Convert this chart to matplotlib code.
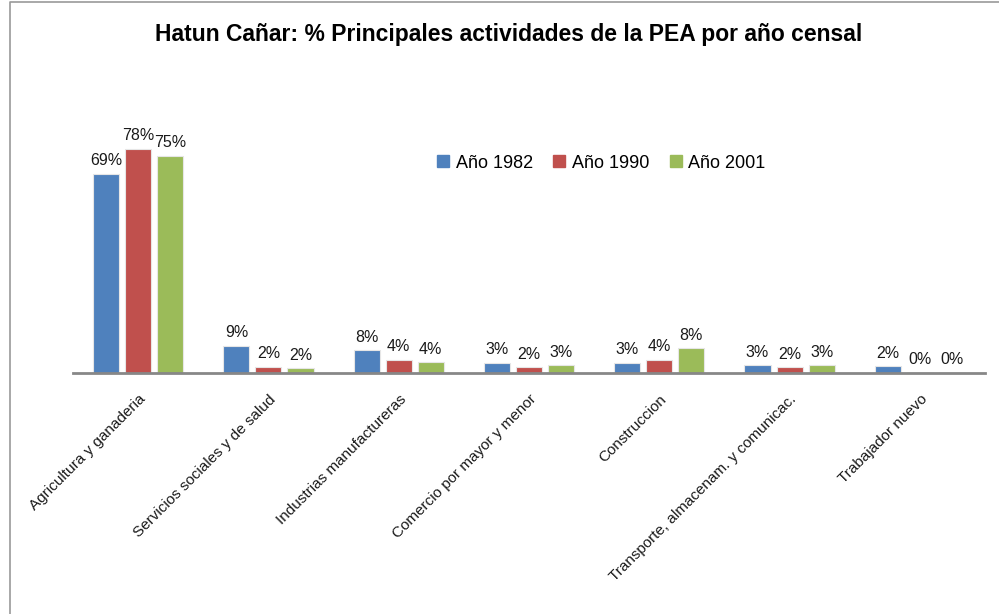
import numpy as np
import matplotlib.pyplot as plt
from matplotlib.lines import Line2D

plt.rcParams['font.family'] = ['Liberation Sans', 'DejaVu Sans']

categorias = ['Agricultura y ganaderia', 'Servicios sociales y de salud',
              'Industrias manufactureras', 'Comercio por mayor y menor',
              'Construccion', 'Transporte, almacenam. y comunicac.',
              'Trabajador nuevo']
anio_1982 = [69.0, 9.4, 7.8, 3.4, 3.4, 2.6, 2.3]
anio_1990 = [77.6, 2.0, 4.4, 1.9, 4.4, 1.9, 0.0]
anio_2001 = [75.1, 1.6, 3.6, 2.6, 8.4, 2.6, 0.0]
series = [('Año 1982', anio_1982, '#4F81BD'),
          ('Año 1990', anio_1990, '#C0504D'),
          ('Año 2001', anio_2001, '#9BBB59')]

fig = plt.figure(figsize=(9.99, 6.14), dpi=100)
ax = fig.add_axes([73 / 999, 1 - 372.7 / 614, 912 / 999, (372.7 - 113) / 614])

x = np.arange(len(categorias))
width = 0.2
offsets = [-0.246, 0, 0.246]
handles = []
for (name, vals, color), off in zip(series, offsets):
    bars = ax.bar(x + off, vals, width, color=color, edgecolor='#E6E6E6',
                  linewidth=0.8, label=name)
    ax.bar_label(bars, labels=['{:.0f}%'.format(v) for v in vals],
                 padding=4, fontsize=11.5, color='#1A1A1A')
    handles.append(Line2D([], [], marker='s', linestyle='none', markersize=8,
                          markerfacecolor=color, markeredgecolor=color))

ax.set_xlim(-0.5, len(categorias) - 0.5)
ax.set_ylim(0, 90)
ax.set_yticks([])
for s in ['top', 'right', 'left']:
    ax.spines[s].set_visible(False)
ax.spines['bottom'].set_color('#878787')
ax.spines['bottom'].set_linewidth(2)
ax.tick_params(axis='x', length=0, pad=14)
ax.set_xticks(x)
ax.set_xticklabels(categorias, rotation=45, ha='right', rotation_mode='anchor',
                   fontsize=11, color='#1A1A1A')

ax.legend(handles, [s[0] for s in series], ncol=3, frameon=False,
          fontsize=13, loc='center left',
          bbox_to_anchor=(420 / 999, 1 - 163 / 614),
          bbox_transform=fig.transFigure,
          handletextpad=0.3, columnspacing=1.05, handlelength=0.8)

fig.text(509 / 999, 1 - 34 / 614,
         'Hatun Cañar: % Principales actividades de la PEA por año censal',
         ha='center', va='center', fontsize=16.5, fontweight='bold')

# chart area border (top and left edges)
fig.add_artist(Line2D([9.5 / 999, 9.5 / 999, 1.0], [0.0, 1 - 1.5 / 614, 1 - 1.5 / 614],
                      transform=fig.transFigure, color='#9A9A9A', linewidth=1.2))

fig.savefig('out.png', dpi=100)
